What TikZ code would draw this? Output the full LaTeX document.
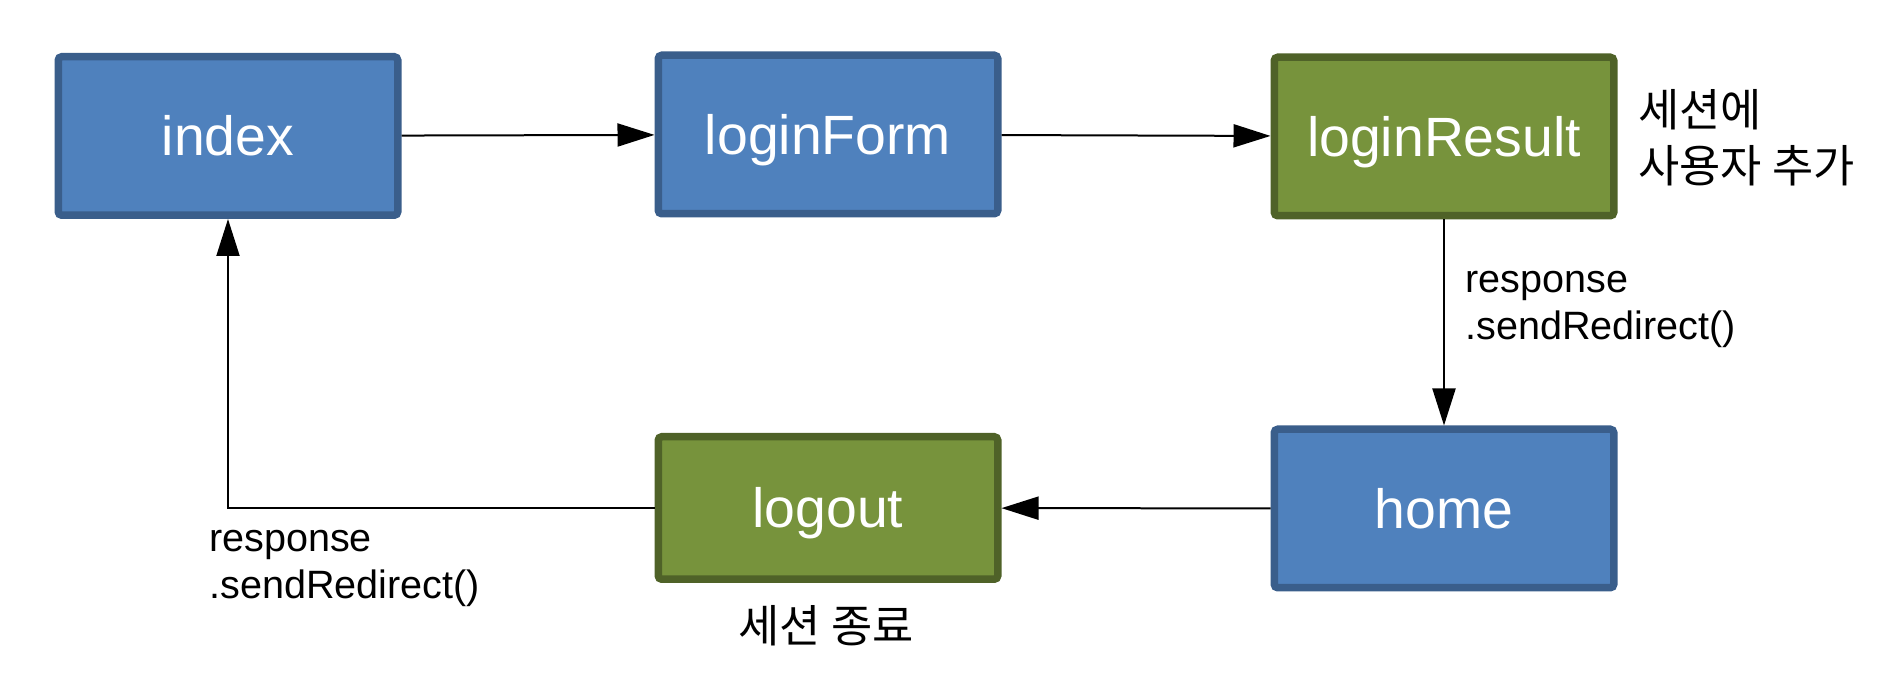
\documentclass[tikz,border=0pt]{standalone}
\usepackage{fontspec}
\setmainfont{Liberation Sans}
\newfontfamily\krfont{Noto Sans CJK KR}
\usepackage{tikz}
\usetikzlibrary{arrows.meta,positioning}

\definecolor{pagefill}{HTML}{4F81BD}
\definecolor{pageborder}{HTML}{3A5E8B}
\definecolor{sessfill}{HTML}{77933C}
\definecolor{sessborder}{HTML}{4F6228}

\begin{document}
\begin{tikzpicture}[
    page/.style={draw=pageborder, fill=pagefill, line width=0.15cm, rounded corners=2pt, minimum width=6.79cm, minimum height=3.17cm, text=white, font=\fontsize{31.5}{36}\selectfont, text height=22.7pt, text depth=0pt},
    session/.style={page, draw=sessborder, fill=sessfill},
    flow/.style={-{Triangle[length=0.74cm,width=0.46cm]}, line width=0.04cm},
    note/.style={align=left, font=\fontsize{22.5}{27.3}\selectfont, inner sep=0pt},
    memo/.style={align=left, font=\krfont\fontsize{25.5}{32.4}\selectfont, inner sep=0pt}
]
    \useasboundingbox (0,0) rectangle (37.88,13.54);

    \node[page] (index) at (4.56,10.82) {index};
    \node[page] (loginForm) at (16.56,10.85) {loginForm};
    \node[session] (loginResult) at (28.88,10.81) {loginResult};
    \node[page] (home) at (28.88,3.37) {home};
    \node[session, minimum height=2.85cm] (logout) at (16.56,3.38) {logout};

    \draw[flow] (index) -- (loginForm);
    \draw[flow] (loginForm) -- (loginResult);
    \draw[flow] (loginResult) -- (home);
    \draw[flow] (home) -- (logout);
    \draw[flow] (logout.west) -| (index.south);

    \node[note, anchor=base west] (redirA) at (29.30,6.74) {response\\.sendRedirect()};
    \node[note, anchor=base west] (redirB) at (4.18,1.56) {response\\.sendRedirect()};
    \node[memo, anchor=base west] (addUser) at (32.76,9.88) {세션에\\사용자 추가};
    \node[memo, anchor=base] (endSession) at (16.52,0.68) {세션 종료};
\end{tikzpicture}
\end{document}
